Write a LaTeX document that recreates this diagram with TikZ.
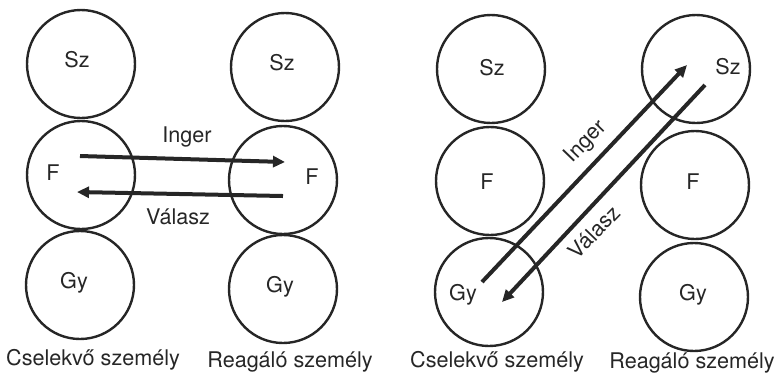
\documentclass[tikz,border=0pt]{standalone}
\usepackage{fontspec}
\setmainfont{TeX Gyre Heros}
\usetikzlibrary{arrows.meta}
\definecolor{ink}{HTML}{262626}
\begin{document}
\begin{tikzpicture}[x=0.5pt,y=-0.5pt,
  ring/.style={draw=ink, line width=1.2pt, circle, minimum size=54pt, inner sep=0pt},
  lbl/.style={text=ink, font=\fontsize{10.8}{12}\selectfont, inner sep=0pt},
  flow/.style={draw=ink, line width=2pt, -{Triangle[length=6pt,width=5.5pt]}}]
\useasboundingbox (0,0) rectangle (784,388);
% panel 1
\node[ring] (aS) at (81,64) {};
\node[ring] (aF) at (81,175) {};
\node[ring] (aG) at (80,285) {};
\node[ring] (bS) at (285,67) {};
\node[ring] (bF) at (283,180) {};
\node[ring] (bG) at (283,289) {};
\node[lbl] (taS) at (77,60) {Sz};
\node[lbl] (taF) at (53,173) {F};
\node[lbl] (taG) at (74,283) {Gy};
\node[lbl] (tbS) at (282,63) {Sz};
\node[lbl] (tbF) at (312,177) {F};
\node[lbl] (tbG) at (280,287) {Gy};
\coordinate (i1s) at (80,156);
\coordinate (i1e) at (285,162);
\coordinate (v1s) at (283,196);
\coordinate (v1e) at (77,192);
\draw[flow] (i1s) -- (i1e);
\draw[flow] (v1s) -- (v1e);
\node[lbl] (ti1) at (187,137) {Inger};
\node[lbl] (tv1) at (178,217) {Válasz};
\node[lbl] (c1) at (93,360) {Cselekvő személy};
\node[lbl] (r1) at (290,362) {Reagáló személy};
% panel 2
\node[ring] (cS) at (491,69) {};
\node[ring] (cF) at (490,181) {};
\node[ring] (cG) at (489,292) {};
\node[ring] (dS) at (696,69) {};
\node[ring] (dF) at (695,185) {};
\node[ring] (dG) at (694,297) {};
\node[lbl] (tcS) at (492,68) {Sz};
\node[lbl] (tcF) at (487,182) {F};
\node[lbl] (tcG) at (463,295) {Gy};
\node[lbl] (tdS) at (728,67) {Sz};
\node[lbl] (tdF) at (693,182) {F};
\node[lbl] (tdG) at (693,295) {Gy};
\coordinate (i2s) at (482,282);
\coordinate (i2e) at (687,65);
\coordinate (v2s) at (705,85);
\coordinate (v2e) at (502,302);
\draw[flow] (i2s) -- (i2e);
\draw[flow] (v2s) -- (v2e);
\node[lbl, rotate=46] (ti2) at (586,142) {Inger};
\node[lbl, rotate=46] (tv2) at (594,232) {Válasz};
\node[lbl] (c2) at (497,362) {Cselekvő személy};
\node[lbl] (r2) at (692,363) {Reagáló személy};
\end{tikzpicture}
\end{document}
